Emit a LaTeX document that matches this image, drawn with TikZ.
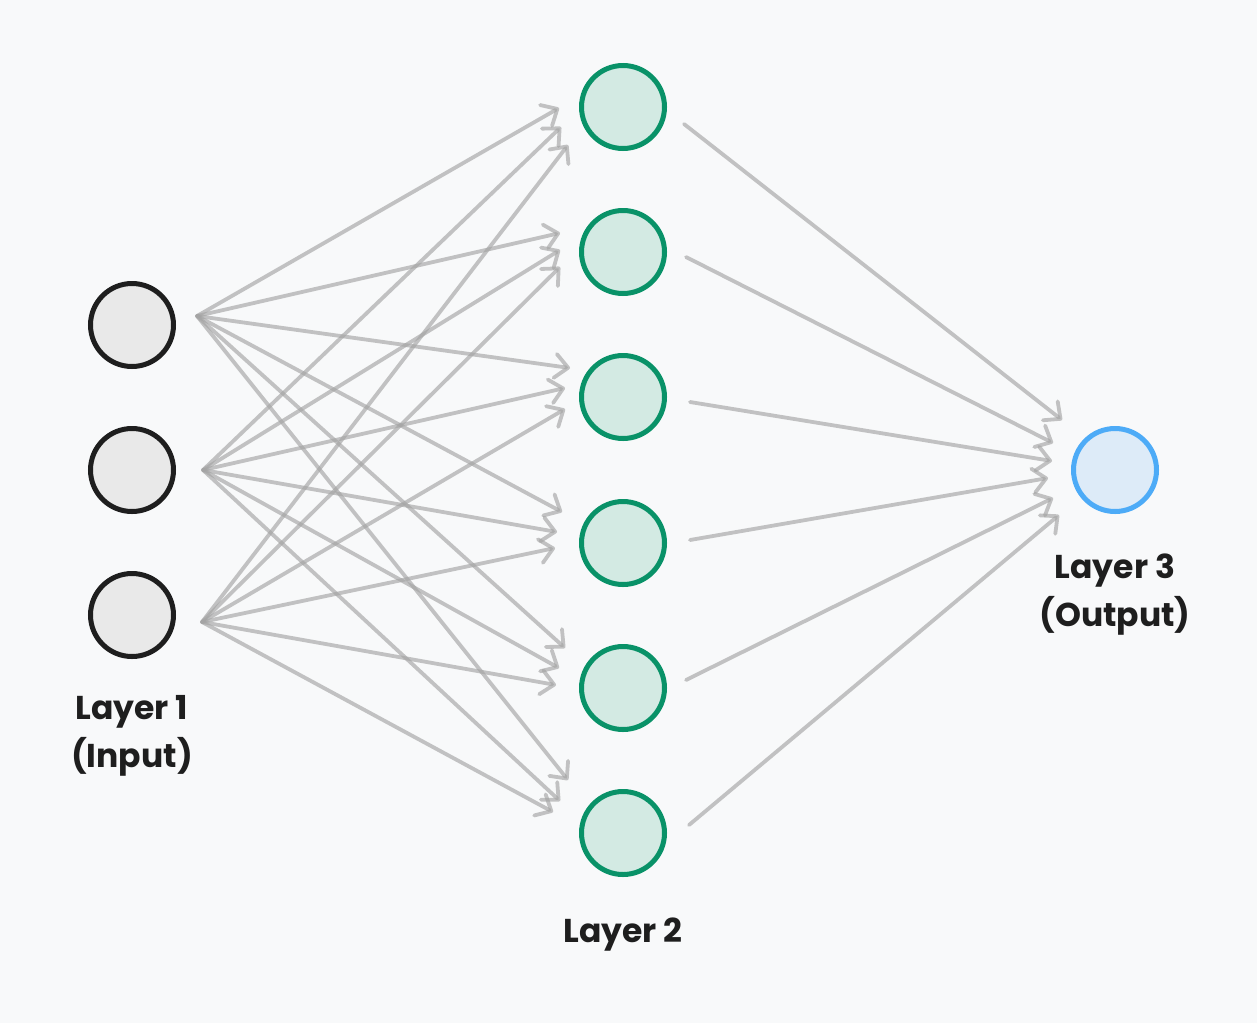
\documentclass[tikz,border=0pt]{standalone}
\usepackage{fontspec}
\setmainfont{Poppins}
\usetikzlibrary{arrows.meta}
\definecolor{bgc}{HTML}{F8F9FA}
\definecolor{inkc}{HTML}{1E1E1E}
\definecolor{infill}{HTML}{E9E9E9}
\definecolor{grn}{HTML}{099268}
\definecolor{grnfill}{HTML}{D3EAE3}
\definecolor{blu}{HTML}{4DABF7}
\definecolor{blufill}{HTML}{DDEBF8}
\definecolor{edgec}{HTML}{A4A4A4}
\tikzset{
  neuron/.style={circle, minimum size=83pt, inner sep=0pt, line width=5pt},
  innode/.style={neuron, draw=inkc, fill=infill},
  hidnode/.style={neuron, draw=grn, fill=grnfill},
  outnode/.style={neuron, draw=blu, fill=blufill},
  conn/.style={draw=edgec, draw opacity=0.65, line width=3.8pt, line cap=round,
    -{Straight Barb[length=13pt,width=24pt,line width=3.8pt,round]}},
  lbl/.style={font=\bfseries\fontsize{33pt}{48pt}\selectfont, text=inkc, align=center, inner sep=0pt}
}
\begin{document}
\begin{tikzpicture}[x=1pt,y=-1pt]
\useasboundingbox[fill=bgc] (0,0) rectangle (1257,1023);
% input layer
\node[innode] (i1) at (132,325) {};
\node[innode] (i2) at (132,470) {};
\node[innode] (i3) at (132,615) {};
% hidden layer
\node[hidnode] (h1) at (623,107) {};
\node[hidnode] (h2) at (623,252) {};
\node[hidnode] (h3) at (623,397) {};
\node[hidnode] (h4) at (623,543) {};
\node[hidnode] (h5) at (623,688) {};
\node[hidnode] (h6) at (623,833) {};
% output
\node[outnode] (o1) at (1115,470) {};
% labels
\node[lbl] (l1) at (132,736) {Layer 1\\(Input)};
\node[lbl] (l2) at (623,935) {Layer 2};
\node[lbl] (l3) at (1115,595) {Layer 3\\(Output)};
% start points
\coordinate (s1) at (197,316);
\coordinate (s2) at (203,470);
\coordinate (s3) at (202,622);
% end points at hidden layer (from input a, to hidden b): eab
\coordinate (e11) at (559,108); \coordinate (e21) at (561,127); \coordinate (e31) at (568,145);
\coordinate (e12) at (560,233); \coordinate (e22) at (560,250); \coordinate (e32) at (560,267);
\coordinate (e13) at (570,368); \coordinate (e23) at (565,388); \coordinate (e33) at (565,409);
\coordinate (e14) at (562,512); \coordinate (e24) at (557,532); \coordinate (e34) at (555,548);
\coordinate (e15) at (565,648); \coordinate (e25) at (559,668); \coordinate (e35) at (556,685);
\coordinate (e16) at (568,780); \coordinate (e26) at (560,801); \coordinate (e36) at (553,812);
\foreach \a in {1,2,3}{
  \foreach \b in {1,...,6}{
    \draw[conn] (s\a) -- (e\a\b);
  }
}
% hidden to output
\coordinate (t1) at (684,124); \coordinate (u1) at (1062,420);
\coordinate (t2) at (686,257); \coordinate (u2) at (1053,443);
\coordinate (t3) at (690,402); \coordinate (u3) at (1052,461);
\coordinate (t4) at (690,540); \coordinate (u4) at (1048,478);
\coordinate (t5) at (686,680); \coordinate (u5) at (1053,498);
\coordinate (t6) at (689,825); \coordinate (u6) at (1059,515);
\foreach \b in {1,...,6}{
  \draw[conn] (t\b) -- (u\b);
}
\end{tikzpicture}
\end{document}
